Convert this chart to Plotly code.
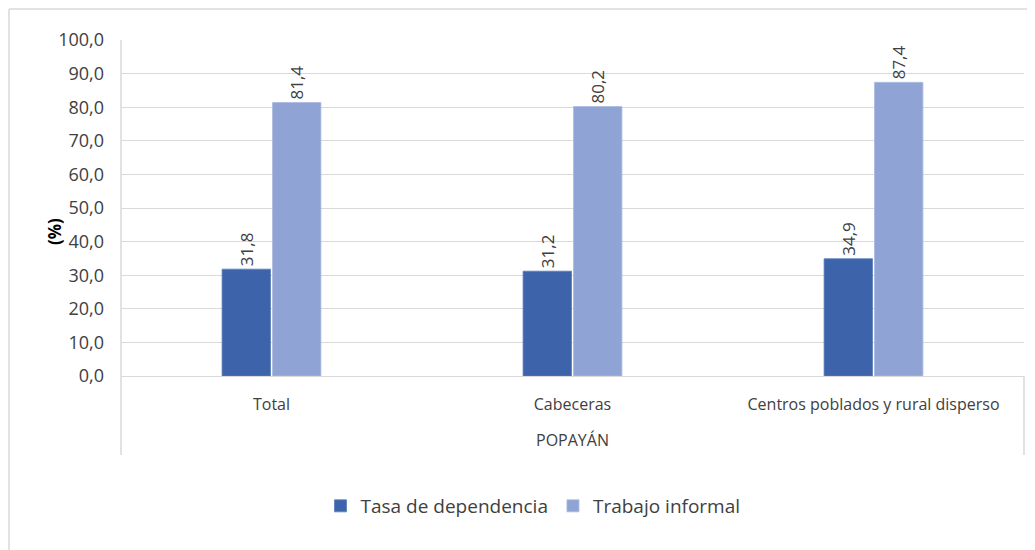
import plotly.graph_objects as go

group_label = "POPAYÁN"
categories = ["Total", "Cabeceras", "Centros poblados y rural disperso"]
tasa_dependencia = [31.8, 31.2, 34.9]
trabajo_informal = [81.4, 80.2, 87.4]
y_ticks = [0, 10, 20, 30, 40, 50, 60, 70, 80, 90, 100]

FONT = "Open Sans"
TXT = "#404040"
GRID = "#D9D9D9"

# page geometry (browser body has an 8px margin)
OFF = 8
PL, PR, PT, PB = 121, 1024, 40, 376


def fmt(v):
    return f"{v:.1f}".replace(".", ",")


def px_x(p):
    return (p - PL) / (PR - PL)


def px_y(p):
    return (PB - p) / (PB - PT)


fig = go.Figure()
fig.add_trace(go.Bar(
    name="Tasa de dependencia", x=categories, y=tasa_dependencia,
    marker=dict(color="#3D64AB", line=dict(color="#5A7EBE", width=0.8)),
    text=[fmt(v) for v in tasa_dependencia], textposition="outside",
    textangle=-90, textfont=dict(family=FONT, size=17, color=TXT),
    cliponaxis=False,
))
fig.add_trace(go.Bar(
    name="Trabajo informal", x=categories, y=trabajo_informal,
    marker=dict(color="#8FA4D5", line=dict(color="#A9BAE0", width=0.8)),
    text=[fmt(v) for v in trabajo_informal], textposition="outside",
    textangle=-90, textfont=dict(family=FONT, size=17, color=TXT),
    cliponaxis=False,
))

W, H = 1035 - OFF, 550 - OFF
fig.update_layout(
    width=W, height=H,
    margin=dict(l=PL - OFF, r=W + OFF - PR, t=PT - OFF, b=H + OFF - PB, autoexpand=False),
    paper_bgcolor="white", plot_bgcolor="white",
    barmode="group", bargap=0.665, bargroupgap=0.04,
    font=dict(family=FONT, size=16, color=TXT),
    showlegend=True,
    legend=dict(orientation="h", x=px_x(533), xanchor="center", y=px_y(506), yanchor="middle",
                font=dict(family=FONT, size=19, color=TXT), traceorder="normal"),
    uniformtext=dict(minsize=10, mode="show"),
)
fig.update_yaxes(
    range=[0, 100], tickvals=y_ticks, ticktext=[fmt(v) for v in y_ticks],
    showgrid=True, gridcolor=GRID, gridwidth=1,
    showline=False, zeroline=False, ticks="", ticklabelstandoff=16,
    tickfont=dict(family=FONT, size=18, color=TXT),
)
fig.update_xaxes(
    type="category", showline=True, linecolor=GRID, linewidth=1,
    ticks="", ticklabelstandoff=14, tickfont=dict(family=FONT, size=16, color=TXT),
)

# y-axis title
fig.add_annotation(text="<b>(%)</b>", xref="paper", yref="paper", x=px_x(54), y=px_y(232),
                   xanchor="center", yanchor="middle",
                   textangle=-90, showarrow=False, font=dict(family=FONT, size=17, color="#000000"))
# outer category label
fig.add_annotation(text=group_label, xref="paper", yref="paper", x=0.5, y=px_y(440),
                   xanchor="center", yanchor="middle", showarrow=False,
                   font=dict(family=FONT, size=16, color=TXT))

# axis line + category group dividers
fig.add_shape(type="line", xref="paper", yref="paper", x0=0, x1=0, y0=px_y(455), y1=1,
              line=dict(color=GRID, width=1.5))
fig.add_shape(type="line", xref="paper", yref="paper", x0=1, x1=1, y0=px_y(455), y1=0,
              line=dict(color=GRID, width=1.5))

# outer chart border (left and top edges visible)
fig.add_shape(type="line", xref="paper", yref="paper",
              x0=px_x(9), x1=px_x(9), y0=px_y(560), y1=px_y(9),
              line=dict(color=GRID, width=1.5))
fig.add_shape(type="line", xref="paper", yref="paper",
              x0=px_x(9), x1=px_x(1040), y0=px_y(9), y1=px_y(9),
              line=dict(color=GRID, width=1.5))

fig.write_html("out.html")
